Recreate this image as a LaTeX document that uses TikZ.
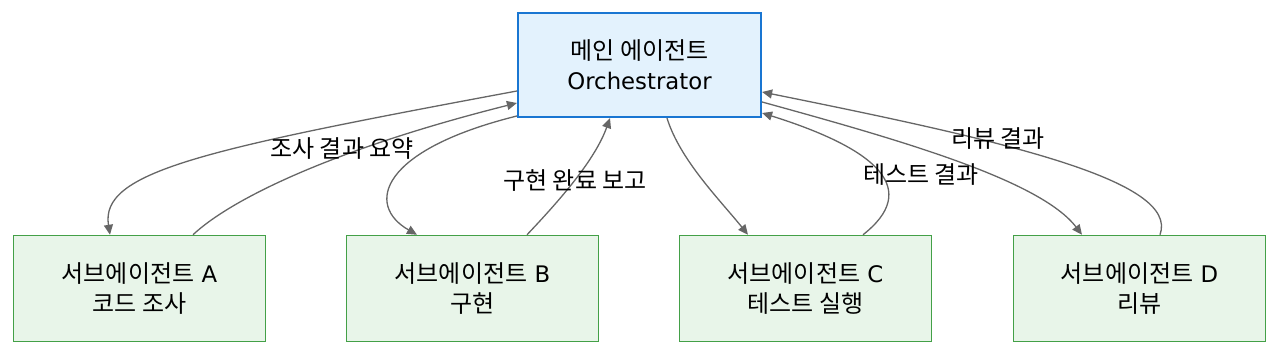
\documentclass[tikz,border=0pt]{standalone}
\usepackage{fontspec}
\setmainfont{DejaVu Sans}[Scale=0.95]
\newfontfamily\kr{Noto Sans CJK KR}
\usetikzlibrary{arrows.meta,calc}
\definecolor{mainfill}{HTML}{E3F2FD}
\definecolor{maindraw}{HTML}{1976D2}
\definecolor{subfill}{HTML}{E8F5E9}
\definecolor{subdraw}{HTML}{43A047}
\definecolor{edgecol}{HTML}{666666}
\tikzset{
  mainbox/.style={draw=maindraw, fill=mainfill, line width=2.2pt, minimum width=243pt, minimum height=104pt, align=center, inner sep=0pt, font=\fontsize{24}{30}\selectfont},
  subbox/.style={draw=subdraw, fill=subfill, line width=1.5pt, minimum width=252pt, minimum height=106pt, align=center, inner sep=0pt, font=\fontsize{24}{30}\selectfont},
  edge/.style={draw=edgecol, line width=1.3pt, -{Triangle[length=10pt,width=9pt]}},
  elabel/.style={inner sep=0pt, font=\fontsize{24}{28}\selectfont\kr}
}
\begin{document}
\begin{tikzpicture}[x=1pt,y=-1pt]
\useasboundingbox (0,0) rectangle (1280,355);
\node[mainbox] (main) at (639.5,65) {{\kr 메인 에이전트}\\Orchestrator};
\node[subbox] (A) at (139.5,288.5) {{\kr 서브에이전트} A\\{\kr 코드 조사}};
\node[subbox] (B) at (472.5,288.5) {{\kr 서브에이전트} B\\{\kr 구현}};
\node[subbox] (C) at (805.5,288.5) {{\kr 서브에이전트} C\\{\kr 테스트 실행}};
\node[subbox] (D) at (1139.5,288.5) {{\kr 서브에이전트} D\\{\kr 리뷰}};

\draw[edge] ($(main.west)+(0,26)$) .. controls (200,150) and (100,172) .. ($(A.north)+(-29.5,0)$);
\draw[edge] ($(A.north)+(53.5,0)$) .. controls (230,200) and (330,150) .. ($(main.west)+(0,38)$);
\draw[edge] ($(main.west)+(0,51)$) .. controls (380,150) and (365,205) .. ($(B.north)+(-55.5,0)$);
\draw[edge] ($(B.north)+(54.5,0)$) .. controls (560,200) and (595,160) .. ($(main.south)+(-29.5,0)$);
\draw[edge] ($(main.south)+(27.5,0)$) .. controls (680,160) and (720,200) .. ($(C.north)+(-57.5,0)$);
\draw[edge] ($(C.north)+(57.5,0)$) .. controls (920,190) and (880,150) .. ($(main.east)+(0,48)$);
\draw[edge] ($(main.east)+(0,37)$) .. controls (900,140) and (1040,180) .. ($(D.north)+(-57.5,0)$);
\draw[edge] ($(D.north)+(20.5,0)$) .. controls (1180,180) and (1000,140) .. ($(main.east)+(0,27)$);

\node[elabel] (l1) at (342,149) {조사 결과 요약};
\node[elabel] (l2) at (575,181) {구현 완료 보고};
\node[elabel] (l3) at (921,175) {테스트 결과};
\node[elabel] (l4) at (998,139) {리뷰 결과};
\end{tikzpicture}
\end{document}
